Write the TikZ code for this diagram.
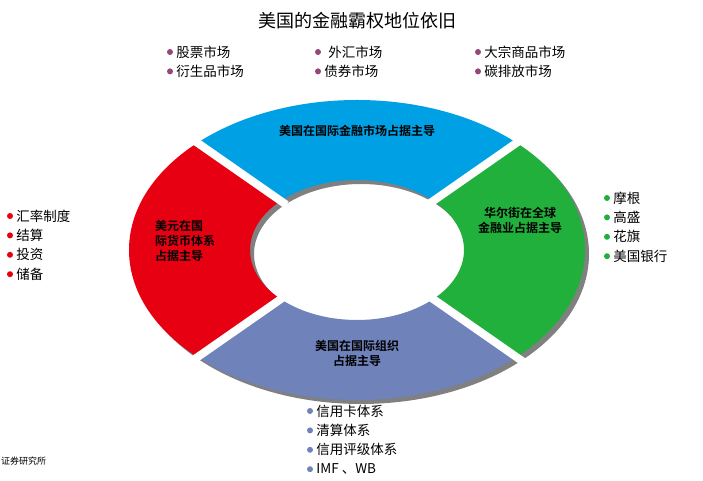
\documentclass[tikz,border=0pt]{standalone}
\usepackage{fontspec}
\setmainfont{Noto Sans CJK SC}[BoldFont={Noto Sans CJK SC Bold}]
\usepackage{xcolor}
\usetikzlibrary{calc, positioning}
\definecolor{marketcolor}{RGB}{0,160,228}
\definecolor{streetcolor}{RGB}{34,176,60}
\definecolor{dollarcolor}{RGB}{230,0,18}
\definecolor{orgcolor}{RGB}{111,130,186}
\definecolor{topbullet}{RGB}{150,70,120}
\definecolor{shadowcolor}{RGB}{128,128,128}

\tikzset{
	segtext/.style={font=\bfseries\fontsize{12}{15}\selectfont, align=center},
	item/.style={font=\fontsize{13.5}{15}\selectfont, inner sep=0pt, anchor=west},
	dot/.style={circle, fill=#1, inner sep=0pt, minimum size=6pt}
}

\begin{document}
\begin{tikzpicture}[x=1pt,y=1pt]
\useasboundingbox (0,0) rectangle (703,481);
\coordinate (c) at (357,231);

% Sectors: shadow first, then the coloured ring
\foreach \a/\b/\col in {45/135/marketcolor, -45/45/streetcolor, 135/225/dollarcolor, 225/315/orgcolor}{
	\fill[shadowcolor] ($(c)+(4,-4)+(\a:228 and 150)$) arc[start angle=\a, end angle=\b, x radius=228, y radius=150]
		-- ($(c)+(4,-4)+(\b:107 and 70)$) arc[start angle=\b, end angle=\a, x radius=107, y radius=70] -- cycle;
	\fill[\col] ($(c)+(\a:228 and 150)$) arc[start angle=\a, end angle=\b, x radius=228, y radius=150]
		-- ($(c)+(\b:107 and 70)$) arc[start angle=\b, end angle=\a, x radius=107, y radius=70] -- cycle;
}

% Gaps between the sectors
\foreach \a in {45,135,225,315}{
	\draw[white, line width=8pt] ($(c)+(\a:100 and 64)$) -- ($(c)+(\a:245 and 165)$);
}

\node[font=\fontsize{18}{20}\selectfont] (title) at (357,460) {美国的金融霸权地位依旧};

\node[segtext] (market) at (357,350) {美国在国际金融市场占据主导};
\node[segtext] (street) at (520,261) {华尔街在全球\\金融业占据主导};
\node[segtext, align=left] (dollar) at (185,240) {美元在国\\际货币体系\\占据主导};
\node[segtext] (org) at (357,128) {美国在国际组织\\占据主导};

% Top lists
\node[dot=topbullet] (b-1) at (170,429) {};
\node[item, right=3pt of b-1] (t-1) {股票市场};
\node[dot=topbullet, below=13pt of b-1] (b-2) {};
\node[item, right=3pt of b-2] (t-2) {衍生品市场};
\node[dot=topbullet] (b-3) at (318,429) {};
\node[item, right=7pt of b-3] (t-3) {外汇市场};
\node[dot=topbullet, below=13pt of b-3] (b-4) {};
\node[item, right=3pt of b-4] (t-4) {债券市场};
\node[dot=topbullet] (b-5) at (478,429) {};
\node[item, right=3pt of b-5] (t-5) {大宗商品市场};
\node[dot=topbullet, below=13pt of b-5] (b-6) {};
\node[item, right=3pt of b-6] (t-6) {碳排放市场};

% Right list
\node[dot=streetcolor] (r-1) at (607,283) {};
\node[item, right=3pt of r-1] {摩根};
\node[dot=streetcolor, below=13pt of r-1] (r-2) {};
\node[item, right=3pt of r-2] {高盛};
\node[dot=streetcolor, below=13pt of r-2] (r-3) {};
\node[item, right=3pt of r-3] {花旗};
\node[dot=streetcolor, below=13pt of r-3] (r-4) {};
\node[item, right=3pt of r-4] {美国银行};

% Left list
\node[dot=dollarcolor] (l-1) at (10,265) {};
\node[item, right=3pt of l-1] {汇率制度};
\node[dot=dollarcolor, below=13pt of l-1] (l-2) {};
\node[item, right=3pt of l-2] {结算};
\node[dot=dollarcolor, below=13pt of l-2] (l-3) {};
\node[item, right=3pt of l-3] {投资};
\node[dot=dollarcolor, below=13pt of l-3] (l-4) {};
\node[item, right=3pt of l-4] {储备};

% Bottom list
\node[dot=orgcolor] (o-1) at (310,70) {};
\node[item, right=3pt of o-1] {信用卡体系};
\node[dot=orgcolor, below=13pt of o-1] (o-2) {};
\node[item, right=3pt of o-2] {清算体系};
\node[dot=orgcolor, below=13pt of o-2] (o-3) {};
\node[item, right=3pt of o-3] {信用评级体系};
\node[dot=orgcolor, below=13pt of o-3] (o-4) {};
\node[item, right=3pt of o-4] {IMF 、WB};

\node[anchor=west, font=\fontsize{9}{10}\selectfont\itshape, inner sep=0pt] (source) at (1,20) {证券研究所};
\end{tikzpicture}
\end{document}
